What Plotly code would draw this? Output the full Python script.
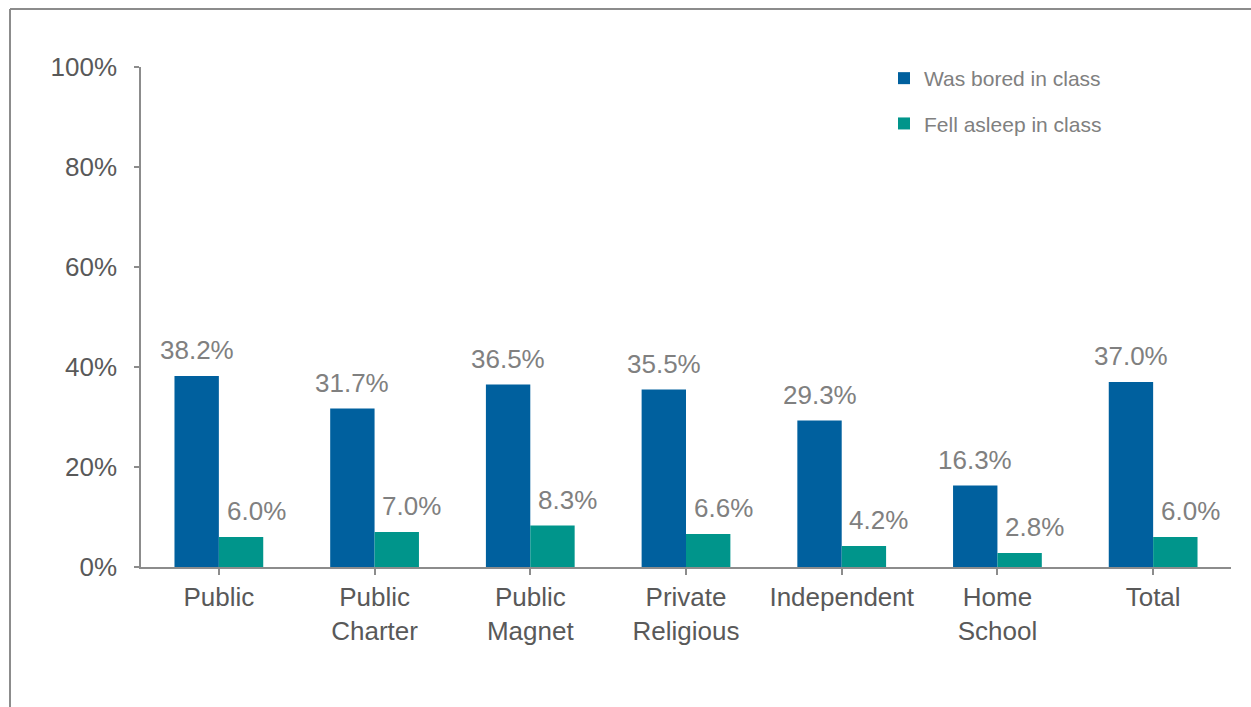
import plotly.graph_objects as go

# School types and survey shares (%)
categories = ["Public", "Public<br>Charter", "Public<br>Magnet", "Private<br>Religious",
              "Independent", "Home<br>School", "Total"]
bored = [38.2, 31.7, 36.5, 35.5, 29.3, 16.3, 37.0]
asleep = [6.0, 7.0, 8.3, 6.6, 4.2, 2.8, 6.0]
series_names = ["Was bored in class", "Fell asleep in class"]
y_ticks = [0, 20, 40, 60, 80, 100]
y_tick_labels = [f"{v}%" for v in y_ticks]

BLUE = "#00609E"
TEAL = "#00958B"
FONT = "Liberation Sans, Arial, sans-serif"
TICK_GRAY = "#595959"
LABEL_GRAY = "#808080"
AXIS_GRAY = "#8C8C8C"

W, H = 1251, 707
ML, MR, MT, MB = 141, 20, 67, 140
plot_w = W - ML - MR
plot_h = H - MT - MB

fig = go.Figure()
fig.add_trace(go.Bar(x=list(range(len(categories))), y=bored, name=series_names[0],
                     marker=dict(color=BLUE, line=dict(width=0)), legendgroup="a"))
fig.add_trace(go.Bar(x=list(range(len(categories))), y=asleep, name=series_names[1],
                     marker=dict(color=TEAL, line=dict(width=0)), legendgroup="b"))

# value labels above each bar
half = (1 - 0.43) / 4
annotations = []
for i, v in enumerate(bored):
    annotations.append(dict(x=i - half, y=v, xref="x", yref="y", text=f"{v:.1f}%",
                            showarrow=False, yanchor="bottom", yshift=9,
                            font=dict(family=FONT, size=26, color=LABEL_GRAY)))
for i, v in enumerate(asleep):
    annotations.append(dict(x=i + half, y=v, xref="x", yref="y", text=f"{v:.1f}%",
                            showarrow=False, yanchor="bottom", yshift=9, xshift=15,
                            font=dict(family=FONT, size=26, color=LABEL_GRAY)))

# outer frame (top and left edges)
fx = (10 - ML) / plot_w
fy_top = (H - MB - 9) / plot_h
fy_bot = (H - MB - H - 5) / plot_h
shapes = [
    dict(type="line", xref="paper", yref="paper", x0=fx, x1=(W + 5 - ML) / plot_w,
         y0=fy_top, y1=fy_top, line=dict(color=AXIS_GRAY, width=2)),
    dict(type="line", xref="paper", yref="paper", x0=fx, x1=fx,
         y0=fy_bot, y1=fy_top, line=dict(color=AXIS_GRAY, width=2)),
]

fig.update_layout(
    width=W, height=H,
    margin=dict(l=ML, r=MR, t=MT, b=MB, autoexpand=False),
    paper_bgcolor="white", plot_bgcolor="white",
    barmode="group", bargap=0.43, bargroupgap=0,
    font=dict(family=FONT, size=26, color=TICK_GRAY),
    showlegend=True,
    legend=dict(x=(884 - ML) / plot_w, y=(H - MB - 58) / plot_h, xanchor="left", yanchor="top",
                font=dict(family=FONT, size=21, color=LABEL_GRAY),
                tracegroupgap=15, bgcolor="rgba(0,0,0,0)", itemclick=False),
    xaxis=dict(tickmode="array", tickvals=list(range(len(categories))), ticktext=categories,
               range=[-0.5, len(categories) - 0.5],
               showline=True, linecolor=AXIS_GRAY, linewidth=1.5,
               ticks="outside", ticklen=6, tickcolor=AXIS_GRAY, tickwidth=1.5,
               showgrid=False, zeroline=False,
               tickfont=dict(family=FONT, size=26, color=TICK_GRAY)),
    yaxis=dict(range=[0, 100], tickvals=y_ticks, ticktext=y_tick_labels,
               showline=True, linecolor=AXIS_GRAY, linewidth=1.5,
               ticks="outside", ticklen=5, tickcolor=AXIS_GRAY, tickwidth=1.5,
               showgrid=False, zeroline=False, ticklabelstandoff=12,
               tickfont=dict(family=FONT, size=26, color=TICK_GRAY)),
    annotations=annotations,
    shapes=shapes,
)

fig.write_html("out.html")
